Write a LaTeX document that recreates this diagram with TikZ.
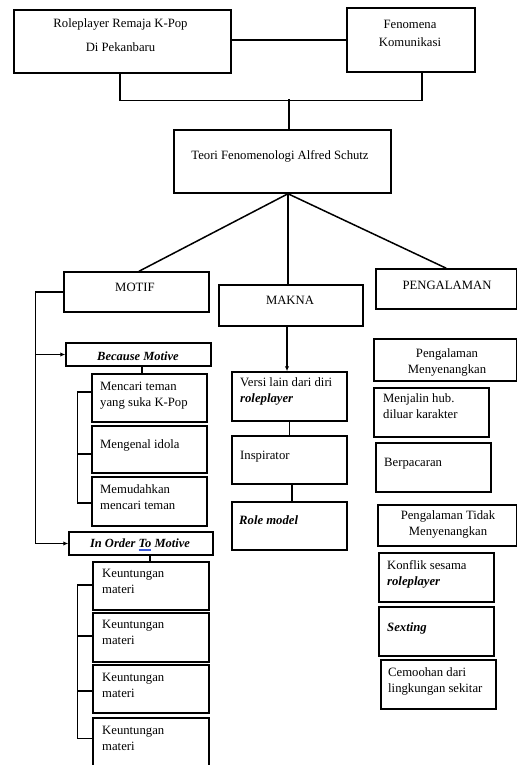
\documentclass[tikz,border=0pt]{standalone}
\usepackage{fontspec}
\setmainfont{Liberation Serif}
\usetikzlibrary{fit,arrows.meta}
\definecolor{spellblue}{RGB}{60,90,220}
\newcommand\spellmark[1]{\setbox0\hbox{#1}\rlap{\color{spellblue}\rule[-2.0pt]{\wd0}{0.5pt}}\rlap{\color{spellblue}\rule[-3.3pt]{\wd0}{0.5pt}}\box0\relax}
\tikzset{
  box/.style={draw, line width=1.5pt, rectangle, inner sep=0pt},
  txt/.style={inner sep=0pt, align=left, font={\fontsize{12.7}{16}\selectfont}},
  ctxt/.style={inner sep=0pt, align=center, font={\fontsize{12.7}{16}\selectfont}},
  link/.style={line width=1.5pt},
  arr/.style={line width=1.5pt, -{Latex[length=5pt,width=4.5pt]}},
}
\begin{document}
\begin{tikzpicture}[x=1pt,y=-1pt]
\fill[white] (0,0) rectangle (517,765);
\useasboundingbox (0,0) rectangle (517,765);

% top
\node[box, fit={(14,10) (231,73)}] (lb) {};
\node[ctxt, anchor=base] (lbt) at (120.5,52) {Roleplayer Remaja K-Pop\\[8pt]Di Pekanbaru};
\node[box, fit={(347,8) (475,72)}] (rb) {};
\node[ctxt, anchor=base] (rbt) at (410,47) {Fenomena\\[2pt]Komunikasi};
\draw[link] (lb.east |- rb.west) -- (rb.west);
\draw[link] ([xshift=-2.5pt]lb.south) -- ++(0,27) -| ([xshift=11pt]rb.south);
\node[box, fit={(174,130) (391,193)}] (teori) {};
\node[ctxt, anchor=base] (teorit) at (280,159) {Teori Fenomenologi Alfred Schutz};
\draw[link] ([xshift=6.5pt]teori.north) -- ++(0,-30);

% level 2
\node[box, fit={(64,272) (209,312)}] (motif) {};
\node[ctxt, anchor=base] (motift) at (135,291) {MOTIF};
\node[box, fit={(219,285) (363,326)}] (makna) {};
\node[ctxt, anchor=base] (maknat) at (290,304) {MAKNA};
\node[box, fit={(376,269) (516.5,309)}] (peng) {};
\node[ctxt, anchor=base] (pengt) at (447,289) {PENGALAMAN};
\draw[link] ([xshift=5.5pt]teori.south) -- ([xshift=2.5pt]motif.north);
\draw[link] ([xshift=5.5pt]teori.south) -- ([xshift=-3pt]makna.north);
\draw[link] ([xshift=5.5pt]teori.south) -- (peng.north);

% MOTIF column
\node[box, fit={(66,343) (211,366)}] (because) {};
\node[ctxt, anchor=base, font={\fontsize{12.5}{16}\selectfont\bfseries\itshape}] (becauset) at (138,360) {Because Motive};
\node[box, fit={(69,532) (213,555)}] (inorder) {};
\node[ctxt, anchor=base, font={\fontsize{12.5}{16}\selectfont\bfseries\itshape}] (inordert) at (140,547) {In Order \spellmark{To} Motive};
\draw[link] (motif.west) -- ++(-28,0) coordinate (spine);
\draw[arr] (spine) |- (inorder.west);
\draw[arr] (spine |- because.west) -- (because.west);

\node[box, fit={(92,374) (207,422)}] (m1) {};
\node[txt, anchor=base west] (m1t) at (100,406) {Mencari teman\\yang suka K-Pop};
\node[box, fit={(92,426) (207,473)}] (m2) {};
\node[txt, anchor=base west] (m2t) at (100,448) {Mengenal idola};
\node[box, fit={(92,477) (207,526)}] (m3) {};
\node[txt, anchor=base west] (m3t) at (100,509) {Memudahkan\\mencari teman};
\draw[link] ([xshift=3.5pt]because.south) -- ([xshift=3.5pt]because.south |- m1.north);
\draw[link] ([yshift=6pt]m1.west) -- ++(-14,0) |- ([yshift=-1.5pt]m3.west);
\draw[link] ([yshift=-4.5pt]m2.west) -- ++(-14,0);

\node[box, fit={(93,562) (209,610)}] (k1) {};
\node[txt, anchor=base west] (k1t) at (102,593) {Keuntungan\\materi};
\node[box, fit={(93,613) (209,662)}] (k2) {};
\node[txt, anchor=base west] (k2t) at (102,644.5) {Keuntungan\\materi};
\node[box, fit={(93,665) (209,713)}] (k3) {};
\node[txt, anchor=base west] (k3t) at (102,697) {Keuntungan\\materi};
\node[box, fit={(93,718) (209,768)}] (k4) {};
\node[txt, anchor=base west] (k4t) at (102,750) {Keuntungan\\materi};
\draw[link] ([xshift=9pt]inorder.south) -- ([xshift=9pt]inorder.south |- k1.north);
\draw[link] ([yshift=1pt]k1.west) -- ++(-15,0) |- ([yshift=4.5pt]k4.west);
\draw[link] ([yshift=1.5pt]k2.west) -- ++(-15,0);
\draw[link] ([yshift=-2pt]k3.west) -- ++(-15,0);

% MAKNA column
\node[box, fit={(232,372) (347,421)}] (versi) {};
\node[txt, anchor=base west] (versit) at (240,402) {Versi lain dari diri\\\textbf{\textit{roleplayer}}};
\node[box, fit={(232,436) (347,484)}] (inspir) {};
\node[txt, anchor=base west] (inspirt) at (240,459) {Inspirator};
\node[box, fit={(232,502) (347,550)}] (role) {};
\node[txt, anchor=base west] (rolet) at (239,524) {\textbf{\textit{Role model}}};
\draw[arr] ([xshift=-4pt]makna.south) -- ([xshift=-4pt]makna.south |- versi.north);
\draw[link] (versi.south) -- (inspir.north);
\draw[link] ([xshift=2.5pt]inspir.south) -- ([xshift=2.5pt]role.north);

% PENGALAMAN column
\node[box, fit={(374,339) (516.5,381)}] (p1) {};
\node[ctxt, anchor=base] (p1t) at (447,373) {Pengalaman\\Menyenangkan};
\node[box, fit={(374,388) (489,437)}] (p2) {};
\node[txt, anchor=base west] (p2t) at (383,418) {Menjalin hub.\\diluar karakter};
\node[box, fit={(376,443) (491,492)}] (p3) {};
\node[txt, anchor=base west] (p3t) at (384,466) {Berpacaran};
\node[box, fit={(378,505) (516.5,546)}] (p4) {};
\node[ctxt, anchor=base] (p4t) at (448,535) {Pengalaman Tidak\\Menyenangkan};
\node[box, fit={(379,553) (494,602)}] (p5) {};
\node[txt, anchor=base west] (p5t) at (387,585.5) {Konflik sesama\\\textbf{\textit{roleplayer}}};
\node[box, fit={(379,607) (494,656)}] (p6) {};
\node[txt, anchor=base west] (p6t) at (387,631) {\textbf{\textit{Sexting}}};
\node[box, fit={(381,660) (496,709)}] (p7) {};
\node[txt, anchor=base west] (p7t) at (388,692) {Cemoohan dari\\lingkungan sekitar};
\end{tikzpicture}
\end{document}
